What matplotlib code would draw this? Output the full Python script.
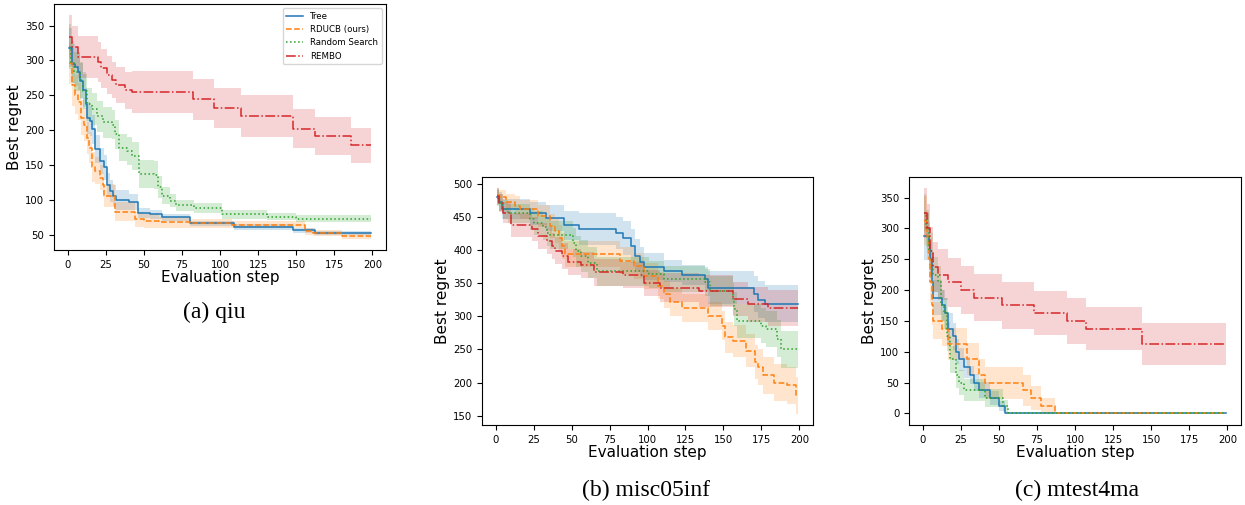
import numpy as np
import matplotlib
matplotlib.use("Agg")
import matplotlib.pyplot as plt

# Ortak x ekseni: degerlendirme adimlari 1..199
LAST_STEP = 199
METHODS = ["Tree", "RDUCB (ours)", "Random Search", "REMBO"]
COLORS = ["C0", "C1", "C2", "C3"]
STYLES = ["-", "--", ":", "-."]

# (a) qiu  -- X: degisim adimi, Y: ortalama, E: +/- sapma
QIU_TREE_X = [1, 3, 5, 7, 8, 10, 12, 13, 15, 16, 18, 21, 24, 26, 28, 30, 32, 40, 46, 54, 62, 80, 109, 148, 162]
QIU_TREE_Y = [318, 295, 291, 284, 270, 258, 237, 218, 213, 201, 173, 156, 147, 121, 113, 106, 100, 97, 81, 79, 75, 66, 61, 56, 52]
QIU_TREE_E = [28, 28, 28, 27, 26, 25, 24, 23, 22, 21, 20, 19, 18, 17, 16, 15, 14, 12, 7, 6, 5, 4, 4, 3, 3]

QIU_RDUCB_X = [1, 3, 5, 7, 9, 11, 13, 14, 16, 18, 21, 23, 24, 31, 44, 50, 60, 80, 108, 156, 161, 180]
QIU_RDUCB_Y = [296, 265, 251, 241, 218, 208, 189, 175, 147, 142, 132, 121, 106, 83, 72, 70, 68, 66, 64, 55, 52, 48]
QIU_RDUCB_E = [30, 30, 28, 27, 25, 24, 23, 22, 22, 20, 18, 17, 16, 14, 11, 10, 8, 6, 5, 5, 4, 4]

QIU_RS_X = [1, 2, 4, 8, 10, 13, 16, 19, 23, 29, 31, 34, 39, 42, 47, 57, 59, 62, 67, 71, 83, 101, 131, 150]
QIU_RS_Y = [320, 298, 284, 272, 256, 237, 230, 220, 211, 208, 194, 175, 170, 163, 137, 136, 118, 106, 99, 92, 88, 79, 76, 73]
QIU_RS_E = [32, 30, 28, 26, 25, 24, 23, 22, 22, 21, 21, 20, 20, 20, 20, 20, 16, 12, 10, 8, 7, 6, 5, 5]

QIU_REMBO_X = [1, 3, 7, 20, 22, 26, 29, 32, 38, 42, 82, 96, 114, 148, 162, 186]
QIU_REMBO_Y = [334, 320, 305, 298, 289, 279, 272, 265, 257, 255, 244, 232, 220, 202, 192, 178]
QIU_REMBO_E = [31, 30, 30, 29, 28, 27, 26, 26, 27, 30, 30, 29, 30, 28, 27, 25]

# (b) misc05inf
MISC_TREE_X = [1, 2, 4, 23, 33, 45, 55, 79, 84, 89, 92, 95, 98, 111, 123, 138, 140, 170, 173, 177]
MISC_TREE_Y = [480, 473, 462, 455, 448, 437, 431, 426, 418, 406, 391, 382, 375, 368, 362, 356, 343, 333, 325, 319]
MISC_TREE_E = [12, 14, 15, 17, 20, 22, 24, 24, 25, 25, 25, 23, 20, 17, 15, 18, 25, 27, 28, 28]

MISC_RDUCB_X = [1, 2, 7, 13, 16, 28, 36, 39, 42, 44, 46, 82, 91, 98, 107, 111, 115, 123, 140, 149, 151, 156, 165, 171, 173, 176, 183, 192, 198]
MISC_RDUCB_Y = [483, 480, 473, 467, 461, 451, 436, 428, 418, 406, 394, 384, 376, 361, 346, 333, 321, 312, 301, 286, 268, 263, 248, 231, 223, 211, 200, 196, 181]
MISC_RDUCB_E = [10, 10, 12, 14, 15, 17, 18, 18, 19, 20, 20, 20, 20, 20, 20, 20, 21, 21, 21, 22, 23, 24, 25, 26, 27, 28, 28, 28, 28]

MISC_RS_X = [1, 2, 5, 8, 23, 25, 31, 34, 36, 51, 53, 56, 61, 67, 101, 111, 138, 141, 156, 157, 159, 175, 178, 185, 188]
MISC_RS_Y = [478, 471, 461, 455, 447, 441, 434, 426, 423, 411, 398, 391, 381, 368, 363, 356, 351, 338, 326, 311, 293, 286, 281, 266, 250]
MISC_RS_E = [12, 13, 14, 15, 17, 18, 19, 20, 21, 22, 23, 24, 24, 22, 20, 20, 20, 22, 24, 26, 26, 27, 27, 28, 28]

MISC_REMBO_X = [1, 2, 5, 10, 24, 28, 34, 37, 39, 44, 48, 56, 65, 84, 98, 108, 134, 156, 166, 179]
MISC_REMBO_Y = [481, 471, 456, 437, 431, 421, 414, 406, 399, 391, 382, 377, 366, 362, 350, 343, 338, 326, 318, 312]
MISC_REMBO_E = [12, 14, 16, 18, 18, 19, 20, 20, 20, 20, 20, 20, 20, 20, 20, 22, 24, 25, 26, 27]

# (c) mtest4ma
MT_TREE_X = [1, 4, 5, 6, 7, 13, 15, 17, 20, 22, 24, 27, 31, 34, 37, 44, 50, 54]
MT_TREE_Y = [287.5, 275, 250, 212.5, 187.5, 175, 162.5, 137.5, 125, 100, 87.5, 75, 62.5, 50, 37.5, 25, 12.5, 0]
MT_TREE_E = [38, 35, 32, 30, 28, 25, 25, 25, 22, 20, 18, 17, 15, 14, 13, 12, 8, 0]

MT_RDUCB_X = [1, 3, 4, 5, 6, 7, 13, 17, 29, 37, 41, 66, 71, 78, 87]
MT_RDUCB_Y = [312.5, 287.5, 250, 212.5, 175, 150, 137.5, 112.5, 87.5, 62.5, 50, 37.5, 25, 12.5, 0]
MT_RDUCB_E = [40, 38, 36, 34, 32, 30, 28, 26, 26, 26, 26, 25, 20, 13, 0]

MT_RS_X = [1, 2, 4, 7, 10, 12, 14, 16, 18, 22, 24, 27, 41, 53, 56]
MT_RS_Y = [325, 300, 262.5, 225, 212.5, 175, 162.5, 125, 87.5, 62.5, 50, 37.5, 25, 12.5, 0]
MT_RS_E = [30, 30, 30, 28, 26, 25, 25, 24, 22, 22, 20, 18, 15, 10, 0]

MT_REMBO_X = [1, 3, 5, 7, 10, 17, 25, 34, 52, 73, 95, 107, 144]
MT_REMBO_Y = [325, 300, 262.5, 237.5, 225, 212.5, 200, 187.5, 175, 162.5, 150, 137.5, 112.5]
MT_REMBO_E = [40, 40, 40, 40, 41, 40, 39, 38, 38, 36, 37, 35, 34]

PANELS = [
    ("(a) qiu", [(QIU_TREE_X, QIU_TREE_Y, QIU_TREE_E), (QIU_RDUCB_X, QIU_RDUCB_Y, QIU_RDUCB_E),
                 (QIU_RS_X, QIU_RS_Y, QIU_RS_E), (QIU_REMBO_X, QIU_REMBO_Y, QIU_REMBO_E)]),
    ("(b) misc05inf", [(MISC_TREE_X, MISC_TREE_Y, MISC_TREE_E), (MISC_RDUCB_X, MISC_RDUCB_Y, MISC_RDUCB_E),
                       (MISC_RS_X, MISC_RS_Y, MISC_RS_E), (MISC_REMBO_X, MISC_REMBO_Y, MISC_REMBO_E)]),
    ("(c) mtest4ma", [(MT_TREE_X, MT_TREE_Y, MT_TREE_E), (MT_RDUCB_X, MT_RDUCB_Y, MT_RDUCB_E),
                      (MT_RS_X, MT_RS_Y, MT_RS_E), (MT_REMBO_X, MT_REMBO_Y, MT_REMBO_E)]),
]

W, H = 1245, 505
# piksel cinsinden eksen kutulari: sol, ust, sag, alt
BOXES = [(54, 4, 386, 250), (482, 177, 813, 425), (909, 177, 1241, 425)]
CAPTION_POS = [(214, 312), (646, 490), (1077, 490)]


def draw_series(ax, xs, ys, es, color, style, label):
    x = np.append(xs, LAST_STEP)
    y = np.append(ys, ys[-1]).astype(float)
    e = np.append(es, es[-1]).astype(float)
    ax.fill_between(x, y - e, y + e, step="post", color=color, alpha=0.2, linewidth=0)
    ax.step(x, y, where="post", color=color, linestyle=style, linewidth=1.1, label=label)


fig = plt.figure(figsize=(W / 100, H / 100), dpi=100)

for i, (caption, series) in enumerate(PANELS):
    l, t, r, b = BOXES[i]
    ax = fig.add_axes([l / W, 1 - b / H, (r - l) / W, (b - t) / H])
    for (xs, ys, es), c, s, name in zip(series, COLORS, STYLES, METHODS):
        draw_series(ax, xs, ys, es, c, s, name)
    ax.set_xticks([0, 25, 50, 75, 100, 125, 150, 175, 200])
    ax.tick_params(labelsize=7.3)
    ax.set_xlabel("Evaluation step", fontsize=11, labelpad=0.5)
    ax.set_ylabel("Best regret", fontsize=11, labelpad=2)
    if i == 0:
        ax.legend(loc="upper right", fontsize=6.2)
    cx, cy = CAPTION_POS[i]
    fig.text(cx / W, 1 - cy / H, caption, ha="center", va="center",
             fontsize=17, family="Liberation Serif")

fig.savefig("out.png", dpi=100)
